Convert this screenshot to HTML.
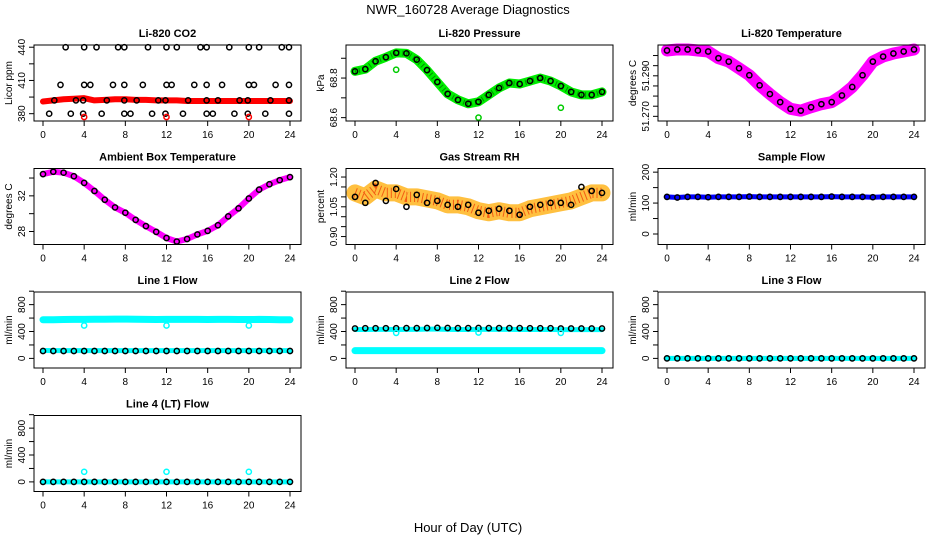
<!DOCTYPE html>
<html><head><meta charset="utf-8">
<style>
html,body{margin:0;padding:0;background:#fff;}
svg{display:block;font-family:"Liberation Sans",Arial,sans-serif;}
</style></head>
<body>
<svg id="chart" width="936" height="540" viewBox="0 0 936 540">
<rect x="0" y="0" width="936" height="540" fill="#fff"/>
<text x="468" y="14" font-size="13" text-anchor="middle">NWR_160728  Average Diagnostics</text>
<text x="468" y="532" font-size="13" text-anchor="middle">Hour of Day (UTC)</text>
<g id="panels"></g>
</svg>
<script>
// ---- data ----
const hours = [0,1,2,3,4,5,6,7,8,9,10,11,12,13,14,15,16,17,18,19,20,21,22,23,24];
const co2Band = [391,392,393,393.5,394,392,392.5,393,393,392.5,392.5,392,392,392,391.5,391.5,391.5,391.5,391.5,391.5,391.5,391.5,391.5,391.5,391.5];
const co2BlackHours = [2.2,4,5.2,7.3,7.9,10.2,12,13,15.3,15.9,18.1,20,21,23.2,23.9,1.7,4,4.6,6.8,7.9,9.7,12,12.5,14.7,15.9,17.4,20,20.5,22.6,23.9,1.1,3.2,3.9,6.2,7.9,9.1,11.2,11.9,14.1,15.9,17,19.1,19.9,22.1,23.9,0.6,2.7,3.9,5.7,7.9,8.5,10.6,11.9,13.6,15.9,16.5,18.6,19.9,21.6,23.9];
const co2BlackVals = [440,440,440,440,440,440,440,440,440,440,440,440,440,440,440,406,406,406,406,406,406,406,406,406,406,406,406,406,406,406,392,392,392,392,392,392,392,392,392,392,392,392,392,392,392,380,380,380,380,380,380,380,380,380,380,380,380,380,380,380];
const co2OutHours = [4,12,20];
const co2OutVals = [377,377,377];
const pressVals = [68.834,68.845,68.885,68.905,68.927,68.925,68.893,68.84,68.78,68.72,68.69,68.67,68.68,68.715,68.75,68.775,68.77,68.785,68.8,68.785,68.76,68.73,68.715,68.715,68.73];
const pressOutHours = [4,12,20];
const pressOutVals = [68.842,68.6,68.65];
const tempVals = [51.3025,51.303,51.303,51.3025,51.302,51.2987,51.297,51.2937,51.2903,51.2853,51.281,51.277,51.2737,51.2728,51.2745,51.276,51.277,51.2803,51.2845,51.2903,51.297,51.2995,51.301,51.302,51.303];
const ambVals = [34.44,34.7,34.6,34.2,33.46,32.55,31.56,30.7,30.1,29.3,28.6,27.96,27.27,26.87,27.16,27.67,28.07,28.7,29.7,30.6,31.7,32.7,33.3,33.76,34.1];
const rhVals = [1.12,1.10,1.14,1.12,1.12,1.10,1.10,1.09,1.08,1.06,1.06,1.05,1.03,1.02,1.03,1.02,1.02,1.04,1.05,1.06,1.07,1.08,1.10,1.12,1.12];
const rhBlack = [1.10,1.07,1.17,1.08,1.14,1.05,1.11,1.07,1.08,1.06,1.05,1.06,1.02,1.03,1.04,1.03,1.01,1.05,1.06,1.07,1.07,1.06,1.15,1.13,1.12];
const sampleVals = [120,118,120,120,119,120,120,120,121,120,120,120,120,120,120,120,121,120,120,120,119,120,120,120,120];
const line1Hi = [575,575,578,580,580,582,582,585,585,582,580,578,580,580,580,580,578,580,580,578,578,580,578,575,575];
const line1Lo = [118,115,115,115,115,115,115,115,115,115,115,115,115,115,115,115,115,115,115,115,115,115,115,115,115];
const line1Black = [110,110,110,110,110,110,110,110,110,110,110,110,110,110,110,110,110,110,110,110,110,110,110,110,110];
const line1OutHours = [4,12,20];
const line1OutVals = [490,490,490];
const line2Hi = [430,430,432,432,430,432,432,435,435,432,430,430,432,432,432,432,430,430,430,430,428,428,428,428,428];
const line2Lo = [115,115,115,115,115,115,115,115,115,115,115,115,115,115,115,115,115,115,115,115,115,115,115,115,115];
const line2Black = [445,448,448,448,448,450,450,452,455,452,450,450,452,450,450,450,450,448,448,448,445,445,445,445,445];
const line2OutHours = [4,12,20];
const line2OutVals = [380,385,380];
const line3Vals = [0,0,0,0,0,0,0,0,0,0,0,0,0,0,0,0,0,0,0,0,0,0,0,0,0];
const line4Vals = [0,0,0,0,0,0,0,0,0,0,0,0,0,0,0,0,0,0,0,0,0,0,0,0,0];
const line4OutHours = [4,12,20];
const line4OutVals = [150,150,150];
const xTicks = [0,4,8,12,16,20,24];

// ---- drawing ----
const NS = "http://www.w3.org/2000/svg";
const root = document.getElementById('panels');
function mk(tag, attrs, parent){
  const e = document.createElementNS(NS, tag);
  for (const k in attrs) e.setAttribute(k, attrs[k]);
  (parent||root).appendChild(e);
  return e;
}
function panel(p){
  const off = p.col*312, T = 45 + p.row*123.5, B = T+76, L = off+34, R = off+301;
  const g = mk('g', {});
  
  
  const x = h => off + 43 + h*(247/24);
  const y = v => B - (v - p.ymin)/(p.ymax - p.ymin)*(B-T);
  const t = mk('text', {x:(L+R)/2, y:T-8, 'font-size':11, 'font-weight':'bold', 'text-anchor':'middle'}, g);
  t.textContent = p.title;
  
  
  (p.bands||[]).forEach(b=>{
    const pts = (b.h||hours).map((h,i)=>x(h)+','+y(b.v[i])).join(' ');
    const pl = mk('polyline', {points:pts, fill:'none', stroke:b.c, 'stroke-width':b.w, 'stroke-linecap':'round', 'stroke-linejoin':'round'}, g);
    
    
    if (b.dot){
      const d = mk('polyline', {points:pts, fill:'none', stroke:b.dot, 'stroke-width':b.w*0.6, 'stroke-dasharray':'1 3', opacity:0.7}, g);
      
      
    }
  });
  (p.pts||[]).forEach(s=>{
    s.v.forEach((v,i)=>{
      const c = mk('circle', {cx:x((s.h||hours)[i]), cy:y(v), r:2.6, fill:'none', stroke:s.c, 'stroke-width':1.5}, g);
      
      
    });
  });
  const box = mk('rect', {x:L, y:T, width:R-L, height:B-T, fill:'none', stroke:'#000', 'stroke-width':1}, g);
  
  
  xTicks.forEach(h=>{
    mk('line', {x1:x(h), x2:x(h), y1:B, y2:B+5, stroke:'#000'}, g);
    const tx = mk('text', {x:x(h), y:B+17, 'font-size':10, 'text-anchor':'middle'}, g);
    tx.textContent = h;
    
    
  });
  p.yticks.forEach(v=>{
    mk('line', {x1:L, x2:L-5, y1:y(v), y2:y(v), stroke:'#000'}, g);
  });
  p.ylabels.forEach((v,i)=>{
    const tx = mk('text', {x:0, y:0, 'font-size':10, 'text-anchor':'middle', transform:`translate(${L-9},${y(v)}) rotate(-90)`}, g);
    tx.textContent = p.ylabelText ? p.ylabelText[i] : v;
    
    
  });
  const yl = mk('text', {x:0, y:0, 'font-size':10, 'text-anchor':'middle', transform:`translate(${off+12},${(T+B)/2}) rotate(-90)`}, g);
  yl.textContent = p.ylab;
  
  
}

panel({name:'panel-co2', title:'Li-820 CO2', row:0, col:0, ymin:373.4, ymax:442, ylab:'Licor ppm',
  yticks:[380,395,410,425,440], ylabels:[380,410,440],
  bands:[{v:co2Band, c:'#ff0000', w:6}],
  pts:[{h:co2BlackHours, v:co2BlackVals, c:'#000'}, {h:co2OutHours, v:co2OutVals, c:'#ff0000'}]});
panel({name:'panel-pressure', title:'Li-820 Pressure', row:0, col:1, ymin:68.583, ymax:68.967, ylab:'kPa',
  yticks:[68.6,68.7,68.8,68.9], ylabels:[68.6,68.8], ylabelText:['68.6','68.8'],
  bands:[{v:pressVals, c:'#00ee00', w:9, dot:'#006600'}],
  pts:[{v:pressVals, c:'#000'}, {h:pressOutHours, v:pressOutVals, c:'#00cc00'}]});
panel({name:'panel-li820-temp', title:'Li-820 Temperature', row:0, col:2, ymin:51.2677, ymax:51.3052, ylab:'degrees C',
  yticks:[51.270,51.275,51.280,51.285,51.290,51.295,51.300], ylabels:[51.270,51.290], ylabelText:['51.270','51.290'],
  bands:[{v:tempVals, c:'#ff00ff', w:12}],
  pts:[{v:tempVals, c:'#000'}]});
panel({name:'panel-ambient-temp', title:'Ambient Box Temperature', row:1, col:0, ymin:26.54, ymax:35.07, ylab:'degrees C',
  yticks:[28,30,32,34], ylabels:[28,32],
  bands:[{v:ambVals, c:'#ff00ff', w:6}],
  pts:[{v:ambVals, c:'#000'}]});
panel({name:'panel-rh', title:'Gas Stream RH', row:1, col:1, ymin:0.86, ymax:1.243, ylab:'percent',
  yticks:[0.90,0.95,1.00,1.05,1.10,1.15,1.20], ylabels:[0.90,1.05,1.20], ylabelText:['0.90','1.05','1.20'],
  bands:[{v:rhVals, c:'#ffc040', w:17, dot:'#ee3300'}],
  pts:[{v:rhBlack, c:'#000'}]});
panel({name:'panel-sample-flow', title:'Sample Flow', row:1, col:2, ymin:-34, ymax:211.8, ylab:'ml/min',
  yticks:[0,50,100,150,200], ylabels:[0,100,200],
  bands:[{v:sampleVals, c:'#0000ff', w:5}],
  pts:[{v:sampleVals, c:'#000'}]});
panel({name:'panel-line1-flow', title:'Line 1 Flow', row:2, col:0, ymin:-143, ymax:988, ylab:'ml/min',
  yticks:[0,200,400,600,800,1000], ylabels:[0,400,800],
  bands:[{v:line1Hi, c:'#00ffff', w:7}, {v:line1Lo, c:'#00ffff', w:5}],
  pts:[{v:line1Black, c:'#000'}, {h:line1OutHours, v:line1OutVals, c:'#00ffff'}]});
panel({name:'panel-line2-flow', title:'Line 2 Flow', row:2, col:1, ymin:-143, ymax:988, ylab:'ml/min',
  yticks:[0,200,400,600,800,1000], ylabels:[0,400,800],
  bands:[{v:line2Hi, c:'#00ffff', w:5}, {v:line2Lo, c:'#00ffff', w:7}],
  pts:[{v:line2Black, c:'#000'}, {h:line2OutHours, v:line2OutVals, c:'#00ffff'}]});
panel({name:'panel-line3-flow', title:'Line 3 Flow', row:2, col:2, ymin:-143, ymax:988, ylab:'ml/min',
  yticks:[0,200,400,600,800,1000], ylabels:[0,400,800],
  bands:[{v:line3Vals, c:'#00ffff', w:5}],
  pts:[{v:line3Vals, c:'#000'}]});
panel({name:'panel-line4-flow', title:'Line 4 (LT) Flow', row:3, col:0, ymin:-143, ymax:988, ylab:'ml/min',
  yticks:[0,200,400,600,800,1000], ylabels:[0,400,800],
  bands:[{v:line4Vals, c:'#00ffff', w:5}],
  pts:[{v:line4Vals, c:'#000'}, {h:line4OutHours, v:line4OutVals, c:'#00ffff'}]});
</script>
</body></html>
